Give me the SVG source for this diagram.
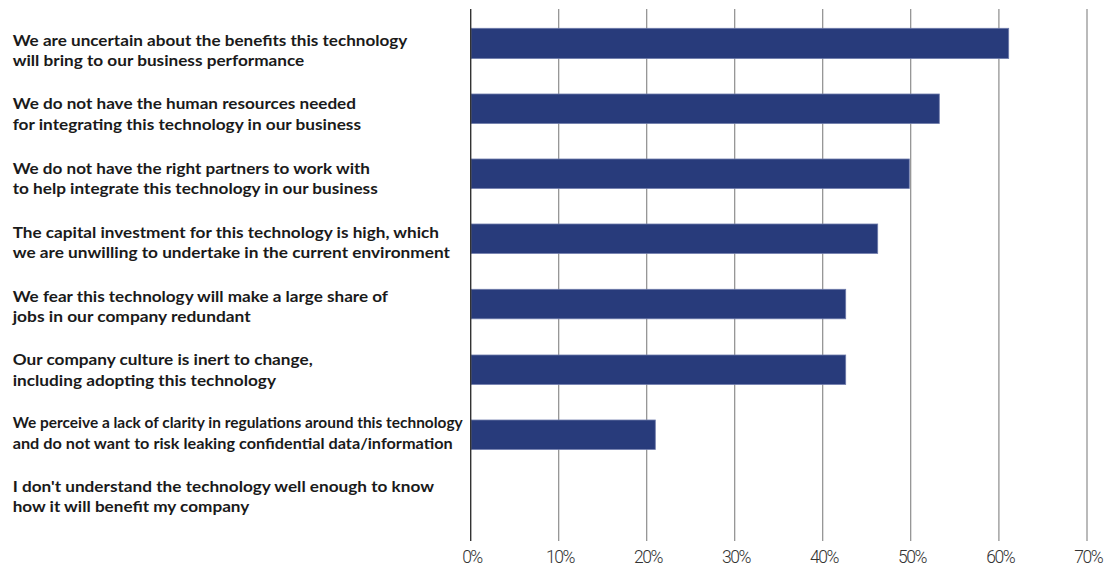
<svg xmlns="http://www.w3.org/2000/svg" width="1119" height="567" viewBox="0 0 1119 567">
<style>
.lbl{font-family:Lato,"Liberation Sans",sans-serif;font-weight:700;font-size:14.6px;fill:#1a1a1a}
.tick{font-family:Roboto,"Liberation Sans",sans-serif;font-weight:300;font-size:17.5px;fill:#333;text-anchor:middle}
.grid{stroke:#8c8c8c;stroke-width:1.2}
.axis{stroke:#333;stroke-width:1.4}
.bar{fill:#283b7b;stroke:#6d7aaa;stroke-width:0.8}
</style>
<rect width="1119" height="567" fill="#fff"/>
<g id="gridlines">
<line class="grid" x1="558.7" y1="9" x2="558.7" y2="541"/>
<line class="grid" x1="646.7" y1="9" x2="646.7" y2="541"/>
<line class="grid" x1="734.7" y1="9" x2="734.7" y2="541"/>
<line class="grid" x1="822.7" y1="9" x2="822.7" y2="541"/>
<line class="grid" x1="910.7" y1="9" x2="910.7" y2="541"/>
<line class="grid" x1="998.9" y1="9" x2="998.9" y2="541"/>
<line class="grid" x1="1087" y1="9" x2="1087" y2="541"/>
</g>
<g id="ticks">
<text class="tick" x="472.7" y="563" textLength="21">0%</text>
<text class="tick" x="560.7" y="563" textLength="29.5">10%</text>
<text class="tick" x="648.7" y="563" textLength="29.5">20%</text>
<text class="tick" x="736.7" y="563" textLength="29.5">30%</text>
<text class="tick" x="824.7" y="563" textLength="29.5">40%</text>
<text class="tick" x="912.7" y="563" textLength="29.5">50%</text>
<text class="tick" x="1000.9" y="563" textLength="29.5">60%</text>
<text class="tick" x="1089" y="563" textLength="29.5">70%</text>
</g>
<g id="bars">
<rect id="bar1" class="bar" x="471" y="28.3" width="537.7" height="30.2"/>
<rect id="bar2" class="bar" x="471" y="94" width="468.3" height="29.5"/>
<rect id="bar3" class="bar" x="471" y="159" width="438.3" height="29.4"/>
<rect id="bar4" class="bar" x="471" y="224" width="406.7" height="29.4"/>
<rect id="bar5" class="bar" x="471" y="289.3" width="374.7" height="29.5"/>
<rect id="bar6" class="bar" x="471" y="355" width="374.7" height="29.4"/>
<rect id="bar7" class="bar" x="471" y="420" width="184.3" height="29.4"/>
</g>
<line id="axis" class="axis" x1="470.7" y1="9" x2="470.7" y2="541"/>
<g id="labels">
<g id="label1"><text class="lbl" x="12.7" y="45.7" textLength="394.6" lengthAdjust="spacingAndGlyphs">We are uncertain about the benefits this technology</text>
<text class="lbl" x="12.7" y="66.3" textLength="291.6" lengthAdjust="spacingAndGlyphs">will bring to our business performance</text></g>
<g id="label2"><text class="lbl" x="12.7" y="109.3" textLength="343.3" lengthAdjust="spacingAndGlyphs">We do not have the human resources needed</text>
<text class="lbl" x="12.7" y="129.9" textLength="348.3" lengthAdjust="spacingAndGlyphs">for integrating this technology in our business</text></g>
<g id="label3"><text class="lbl" x="12.7" y="173.7" textLength="357.3" lengthAdjust="spacingAndGlyphs">We do not have the right partners to work with</text>
<text class="lbl" x="12.7" y="194.3" textLength="365" lengthAdjust="spacingAndGlyphs">to help integrate this technology in our business</text></g>
<g id="label4"><text class="lbl" x="12.7" y="237.7" textLength="426.3" lengthAdjust="spacingAndGlyphs">The capital investment for this technology is high, which</text>
<text class="lbl" x="12.7" y="258.3" textLength="437.3" lengthAdjust="spacingAndGlyphs">we are unwilling to undertake in the current environment</text></g>
<g id="label5"><text class="lbl" x="12.7" y="301.7" textLength="375.3" lengthAdjust="spacingAndGlyphs">We fear this technology will make a large share of</text>
<text class="lbl" x="12.7" y="322.3" textLength="238" lengthAdjust="spacingAndGlyphs">jobs in our company redundant</text></g>
<g id="label6"><text class="lbl" x="12.7" y="365" textLength="300" lengthAdjust="spacingAndGlyphs">Our company culture is inert to change,</text>
<text class="lbl" x="12.7" y="385.6" textLength="263.3" lengthAdjust="spacingAndGlyphs">including adopting this technology</text></g>
<g id="label7"><text class="lbl" x="12.7" y="428.3" textLength="450" lengthAdjust="spacingAndGlyphs">We perceive a lack of clarity in regulations around this technology</text>
<text class="lbl" x="12.7" y="449.3" textLength="440" lengthAdjust="spacingAndGlyphs">and do not want to risk leaking confidential data/information</text></g>
<g id="label8"><text class="lbl" x="12.7" y="491.7" textLength="421.3" lengthAdjust="spacingAndGlyphs">I don't understand the technology well enough to know</text>
<text class="lbl" x="12.7" y="512.3" textLength="236.6" lengthAdjust="spacingAndGlyphs">how it will benefit my company</text></g>
</g>
</svg>
